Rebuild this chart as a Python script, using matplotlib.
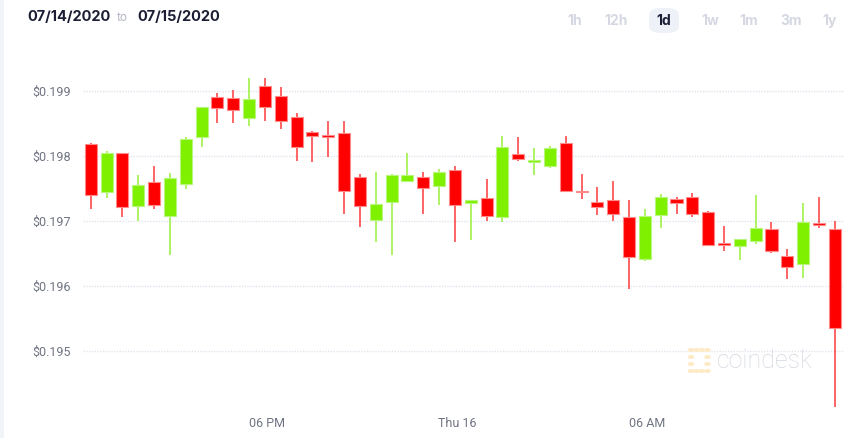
import numpy as np
import matplotlib
matplotlib.use("Agg")
import matplotlib.pyplot as plt
from matplotlib.patches import FancyBboxPatch, Rectangle
from matplotlib.ticker import FuncFormatter

# 30-minute candles, 07/14/2020 afternoon -> 07/15/2020
opens = [0.198175, 0.197442, 0.198037, 0.197222, 0.197595, 0.197072, 0.197569, 0.198288,
         0.198903, 0.198883, 0.198585, 0.199077, 0.198914, 0.198595, 0.198365, 0.198308,
         0.198354, 0.197672, 0.197006, 0.197288, 0.197606, 0.197672, 0.197538, 0.197785,
         0.197277, 0.197345, 0.197057, 0.198026, 0.197908, 0.197846, 0.198200, 0.197457,
         0.197292, 0.197318, 0.197062, 0.196406, 0.197088, 0.197338, 0.197369, 0.197129,
         0.196657, 0.196606, 0.196688, 0.196877, 0.196457, 0.196329, 0.196969, 0.196868]
highs = [0.198195, 0.198068, 0.198046, 0.197703, 0.197842, 0.197734, 0.198283, 0.198749,
         0.198969, 0.199011, 0.199195, 0.199191, 0.199057, 0.198657, 0.198385, 0.198529,
         0.198534, 0.197714, 0.197749, 0.197714, 0.198037, 0.197749, 0.197791, 0.197837,
         0.197318, 0.197642, 0.198303, 0.198283, 0.198118, 0.198154, 0.198298, 0.197714,
         0.197514, 0.197611, 0.197314, 0.197175, 0.197411, 0.197365, 0.197422, 0.197149,
         0.196914, 0.196718, 0.197395, 0.196980, 0.196565, 0.197272, 0.197360, 0.196995]
lows = [0.197185, 0.197354, 0.197062, 0.196995, 0.197180, 0.196468, 0.197492, 0.198138,
        0.198498, 0.198498, 0.198462, 0.198534, 0.198406, 0.197923, 0.197898, 0.197975,
        0.197098, 0.196903, 0.196672, 0.196468, 0.197591, 0.197108, 0.197242, 0.196672,
        0.196698, 0.197000, 0.196980, 0.197918, 0.197708, 0.197806, 0.197446, 0.197338,
        0.197092, 0.196995, 0.195954, 0.196385, 0.196883, 0.197098, 0.197057, 0.196615,
        0.196529, 0.196400, 0.196646, 0.196503, 0.196108, 0.196123, 0.196883, 0.194129]
closes = [0.197395, 0.198046, 0.197215, 0.197549, 0.197237, 0.197657, 0.198252, 0.198745,
          0.198738, 0.198698, 0.198877, 0.198745, 0.198534, 0.198138, 0.198308, 0.198292,
          0.197452, 0.197222, 0.197252, 0.197698, 0.197703, 0.197498, 0.197754, 0.197246,
          0.197318, 0.197072, 0.198134, 0.197949, 0.197918, 0.198114, 0.197457, 0.197437,
          0.197211, 0.197108, 0.196442, 0.197068, 0.197365, 0.197277, 0.197108, 0.196631,
          0.196631, 0.196718, 0.196883, 0.196538, 0.196288, 0.196980, 0.196938, 0.195345]

y_ticks = [0.195, 0.196, 0.197, 0.198, 0.199]
x_tick_pos = [11.13, 23.13, 35.13]
x_tick_labels = ["06 PM", "Thu 16", "06 AM"]
ranges = ["1h", "12h", "1d", "1w", "1m", "3m", "1y"]

plt.rcParams["font.family"] = ["Roboto", "DejaVu Sans"]

W, H = 867, 438
fig = plt.figure(figsize=(W / 100, H / 100), dpi=100)
fig.patch.set_facecolor("white")

# thin left strip of the page background
fig.patches.append(Rectangle((0, 0), 4 / W, 1, transform=fig.transFigure,
                             facecolor="#f1f4f9", edgecolor="none", zorder=0))

ax = fig.add_axes([83 / W, (438 - 410) / H, (844 - 83) / W, 350 / H])
ax.set_facecolor("white")

o = np.array(opens)
h = np.array(highs)
l = np.array(lows)
c = np.array(closes)
x = np.arange(len(o))
up = c >= o

red, red_edge, red_wick = "#ff0000", "#ff8a8a", "#ff3a3a"
green, green_edge, green_wick = "#7ff000", "#b8f77e", "#98f03a"

ax.vlines(x[up], l[up], h[up], color=green_wick, lw=1.1, zorder=2)
ax.vlines(x[~up], l[~up], h[~up], color=red_wick, lw=1.1, zorder=2)

body_lo = np.minimum(o, c)
body_h = np.maximum(np.abs(c - o), 0.00002)
ax.bar(x[up], body_h[up], bottom=body_lo[up], width=0.76, color=green,
       edgecolor=green_edge, linewidth=0.8, zorder=3)
ax.bar(x[~up], body_h[~up], bottom=body_lo[~up], width=0.76, color=red,
       edgecolor=red_edge, linewidth=0.8, zorder=3)

ax.set_xlim(-0.49, 47.58)
ax.set_ylim(0.194088, 0.199472)

ax.set_yticks(y_ticks)
ax.yaxis.set_major_formatter(FuncFormatter(lambda v, p: f"${v:.3f}"))
ax.set_xticks(x_tick_pos)
ax.set_xticklabels(x_tick_labels)
ax.tick_params(axis="both", length=0, labelsize=9, colors="#6f7482")
ax.tick_params(axis="y", pad=9)
ax.tick_params(axis="x", pad=5)
ax.yaxis.grid(True, color="#e2e5ee", linestyle=(0, (1, 1)), lw=1, zorder=0)
ax.set_axisbelow(True)
for s in ax.spines.values():
    s.set_visible(False)

# watermark
fig.text(717 / W, 1 - 361 / H, "coindesk", fontsize=18, family="Roboto",
         fontweight="light", color="#d3d6dd", ha="left", va="center", zorder=1)
for dx, dy in [(0, 0), (0, 1), (0, 2), (0, 3), (1, 0), (2, 0), (3, 0),
               (1, 3), (2, 3), (3, 3), (3, 1), (3, 2)]:
    fig.patches.append(plt.Circle(((691 + dx * 5.5) / W, 1 - (350 + dy * 7) / H), 2.6 / W,
                                  transform=fig.transFigure, color="#fdebc8", zorder=1))

# header: date range
fig.text(27 / W, 1 - 17 / H, "07/14/2020", fontsize=10.5, fontweight="bold",
         family="Inter", color="#1b1e34", ha="left", va="center")
fig.text(117 / W, 1 - 18 / H, "to", fontsize=8.5, family="Inter", color="#b5b8c4",
         ha="left", va="center")
fig.text(137 / W, 1 - 17 / H, "07/15/2020", fontsize=10.5, fontweight="bold",
         family="Inter", color="#1b1e34", ha="left", va="center")

# range selector
range_x = [575, 616, 664, 710, 749, 791, 830]
fig.patches.append(FancyBboxPatch((649 / W, 1 - 33 / H), 30 / W, 25 / H,
                                  boxstyle="round,pad=0,rounding_size=0.015",
                                  transform=fig.transFigure, facecolor="#eef1f8",
                                  edgecolor="none", zorder=0))
for lab, px in zip(ranges, range_x):
    fig.text(px / W, 1 - 21 / H, lab, fontsize=10, fontweight="bold", family="Inter",
             color="#1b1e34" if lab == "1d" else "#d5d8e2", ha="center", va="center")

fig.savefig("out.png", dpi=100, facecolor="white")
